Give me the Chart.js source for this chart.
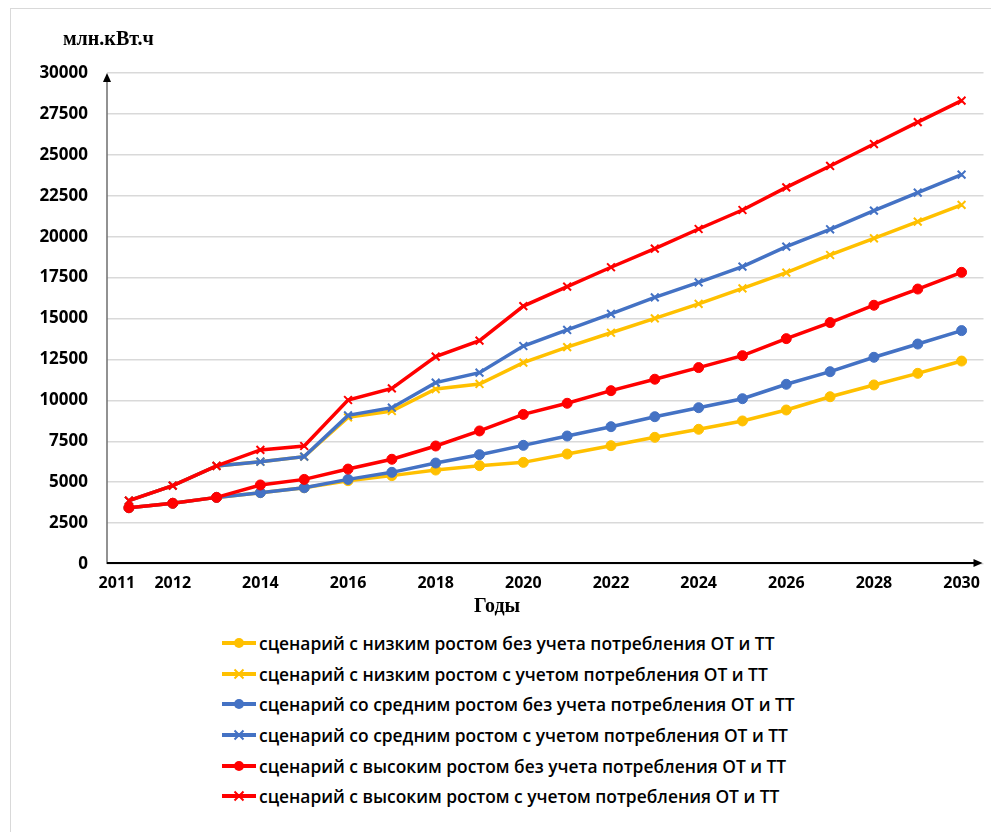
<!DOCTYPE html>
<html lang="ru">
<head>
<meta charset="utf-8">
<title>Прогноз электропотребления</title>
<script src="https://cdn.jsdelivr.net/npm/chart.js@4.4.1/dist/chart.umd.min.js"></script>
<style>
  html, body { margin: 0; padding: 0; background: #fff; }
  body { width: 991px; height: 832px; position: relative; overflow: hidden; }
  #frame { position: absolute; left: 10px; top: 8px; width: 1000px; height: 840px; border: 1px solid #d9d9d9; box-sizing: border-box; }
  #chart { position: absolute; left: 0; top: 0; }
  .title { position: absolute; font-family: "Liberation Serif", "DejaVu Serif", serif; font-weight: bold; color: #000; white-space: nowrap; }
  #ytitle { left: 63px; top: 27px; font-size: 20px; }
  #xtitle { left: 474px; top: 594px; font-size: 20px; }
  #legend { position: absolute; left: 222px; top: 628px; font-family: "Open Sans", sans-serif; font-weight: 600; font-size: 17.4px; color: #000; }
  .row { display: flex; align-items: center; height: 30.6px; white-space: nowrap; }
  .row svg { margin-right: 3px; }
</style>
</head>
<body>
<div id="frame"></div>
<canvas id="chart" width="991" height="620"></canvas>
<div class="title" id="ytitle">млн.кВт.ч</div>
<div class="title" id="xtitle">Годы</div>
<div id="legend"></div>
<script>
// Годы прогноза
const years = [2011, 2012, 2013, 2014, 2015, 2016, 2017, 2018, 2019, 2020,
               2021, 2022, 2023, 2024, 2025, 2026, 2027, 2028, 2029, 2030];

// Подписи на оси X: 2011, 2012 и далее чётные годы
const shownYears = [2011, 2012, 2014, 2016, 2018, 2020, 2022, 2024, 2026, 2028, 2030];

// Деления оси Y, млн.кВт.ч
const yTicks = [0, 2500, 5000, 7500, 10000, 12500, 15000, 17500, 20000, 22500, 25000, 27500, 30000];

// Сценарии электропотребления, млн.кВт.ч
const lowBase  = [3440, 3710, 4070, 4360, 4660, 5090, 5400, 5740, 6010, 6210,
                  6720, 7230, 7740, 8230, 8740, 9410, 10220, 10940, 11650, 12400];
const lowFull  = [3870, 4790, 5990, 6250, 6560, 8960, 9350, 10690, 11000, 12300,
                  13250, 14130, 15010, 15890, 16840, 17800, 18880, 19900, 20920, 21940];
const midBase  = [3440, 3710, 4070, 4360, 4660, 5170, 5600, 6170, 6680, 7250,
                  7820, 8390, 9000, 9550, 10100, 10980, 11750, 12630, 13440, 14260];
const midFull  = [3870, 4790, 5990, 6250, 6560, 9080, 9550, 11080, 11690, 13320,
                  14300, 15280, 16290, 17210, 18170, 19390, 20450, 21590, 22690, 23790];
const highBase = [3440, 3710, 4070, 4830, 5170, 5800, 6400, 7210, 8130, 9140,
                  9820, 10590, 11290, 12000, 12730, 13770, 14750, 15810, 16800, 17820];
const highFull = [3870, 4790, 5990, 6970, 7210, 10020, 10730, 12670, 13650, 15760,
                  16950, 18130, 19270, 20470, 21630, 23010, 24320, 25660, 27000, 28310];

const seriesNames = [
  'сценарий с низким ростом без учета потребления ОТ и ТТ',
  'сценарий с низким ростом с учетом потребления ОТ и ТТ',
  'сценарий со средним ростом без учета потребления ОТ и ТТ',
  'сценарий со средним ростом с учетом потребления ОТ и ТТ',
  'сценарий с высоким ростом без учета потребления ОТ и ТТ',
  'сценарий с высоким ростом с учетом потребления ОТ и ТТ'
];

const YELLOW = '#FFC000', BLUE = '#4472C4', RED = '#FF0000';

function series(label, data, color, marker, order) {
  const dot = marker === 'circle';
  return {
    label, data,
    borderColor: color,
    backgroundColor: color,
    borderWidth: 3.5,
    pointStyle: marker,
    pointRadius: dot ? 5 : 5.5,
    pointBorderWidth: dot ? 1 : 2,
    pointHoverRadius: dot ? 5 : 5.5,
    tension: 0,
    order
  };
}

// Оси со стрелками
const arrowAxes = {
  id: 'arrowAxes',
  afterDraw(chart) {
    const { ctx, chartArea: a } = chart;
    const y0 = chart.scales.y.getPixelForValue(0);
    const yTop = chart.scales.y.getPixelForValue(30000);
    ctx.save();
    // вертикальная ось
    ctx.strokeStyle = '#6e6e6e';
    ctx.lineWidth = 1.5;
    ctx.beginPath();
    ctx.moveTo(a.left, y0);
    ctx.lineTo(a.left, yTop + 8);
    ctx.stroke();
    ctx.fillStyle = '#000';
    ctx.beginPath();
    ctx.moveTo(a.left, yTop);
    ctx.lineTo(a.left - 4, yTop + 9);
    ctx.lineTo(a.left + 4, yTop + 9);
    ctx.closePath();
    ctx.fill();
    // горизонтальная ось
    ctx.strokeStyle = '#000';
    ctx.lineWidth = 2;
    ctx.beginPath();
    ctx.moveTo(a.left, y0 - 1);
    ctx.lineTo(a.right - 8, y0 - 1);
    ctx.stroke();
    ctx.beginPath();
    ctx.moveTo(a.right - 1, y0 - 1);
    ctx.lineTo(a.right - 10, y0 - 5);
    ctx.lineTo(a.right - 10, y0 + 3);
    ctx.closePath();
    ctx.fill();
    ctx.restore();
  }
};

// Легенда в столбик
const htmlLegend = {
  id: 'htmlLegend',
  afterUpdate(chart) {
    const box = document.getElementById('legend');
    box.innerHTML = '';
    chart.data.datasets.forEach(ds => {
      const row = document.createElement('div');
      row.className = 'row';
      const c = ds.borderColor;
      const mark = ds.pointStyle === 'circle'
        ? `<circle cx="17" cy="10" r="5" fill="${c}"/>`
        : `<path d="M12.5 5.5 L21.5 14.5 M21.5 5.5 L12.5 14.5" stroke="${c}" stroke-width="2"/>`;
      row.innerHTML =
        `<svg width="34" height="20" viewBox="0 0 34 20"><line x1="0" y1="10" x2="34" y2="10" stroke="${c}" stroke-width="4"/>${mark}</svg>` +
        `<span>${ds.label}</span>`;
      box.appendChild(row);
    });
  }
};

new Chart(document.getElementById('chart'), {
  type: 'line',
  data: {
    labels: years,
    datasets: [
      series(seriesNames[0], lowBase,  YELLOW, 'circle',   6),
      series(seriesNames[1], lowFull,  YELLOW, 'crossRot', 5),
      series(seriesNames[2], midBase,  BLUE,   'circle',   4),
      series(seriesNames[3], midFull,  BLUE,   'crossRot', 3),
      series(seriesNames[4], highBase, RED,    'circle',   2),
      series(seriesNames[5], highFull, RED,    'crossRot', 1)
    ]
  },
  plugins: [arrowAxes, htmlLegend],
  options: {
    responsive: false,
    animation: false,
    devicePixelRatio: 1,
    layout: { padding: { top: 73, left: 0, right: 0, bottom: 0 } },
    plugins: { legend: { display: false }, tooltip: { enabled: false } },
    scales: {
      x: {
        type: 'category',
        offset: true,
        border: { display: false },
        grid: { display: false, drawTicks: false },
        afterFit(s) { s.height = 56; },
        ticks: {
          autoSkip: false,
          maxRotation: 0,
          padding: 10,
          color: '#000',
          font: { family: 'Open Sans', weight: 'bold', size: 16 },
          callback(v, i) {
            const yr = years[i];
            if (!shownYears.includes(yr)) return '';
            // первая подпись чуть сдвинута влево от точки
            return i === 0 ? yr + '\u2002\u2002\u2002' : String(yr);
          }
        }
      },
      y: {
        min: yTicks[0],
        max: yTicks[yTicks.length - 1],
        border: { display: false },
        grid: { color: '#d9d9d9', lineWidth: 1.5, drawTicks: false },
        afterFit(s) { s.width = 107; },
        afterBuildTicks(s) { s.ticks = yTicks.map(v => ({ value: v })); },
        ticks: {
          padding: 19,
          color: '#000',
          font: { family: 'Open Sans', weight: 'bold', size: 17 },
          callback: v => String(v)
        }
      }
    }
  }
});
</script>
</body>
</html>
